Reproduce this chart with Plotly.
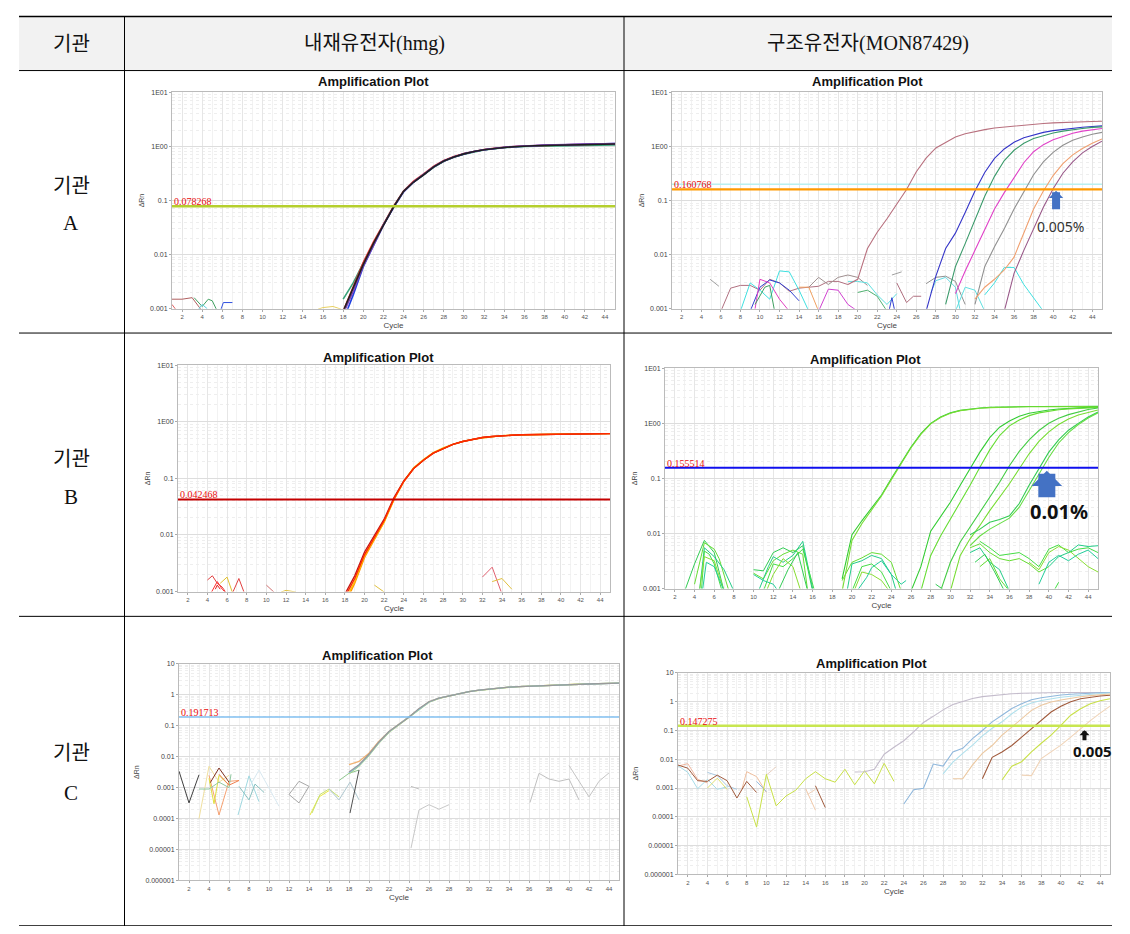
import math

import plotly.graph_objects as go


# page size (the browser adds an 8px body margin, so the figure is 16px smaller)
OFF = 8
W, H = 1130 - 2 * OFF, 934 - 2 * OFF

# ---------------------------------------------------------------- data
HEADERS = ["기관", "내재유전자(hmg)", "구조유전자(MON87429)"]
ROW_LABELS = ["A", "B", "C"]
PLOT_TITLE = "Amplification Plot"

Y_TICKS_AB = [0.001, 0.01, 0.1, 1, 10]
Y_TEXT_AB = ["0.001", "0.01", "0.1", "1E00", "1E01"]
Y_TICKS_C = [0.000001, 0.00001, 0.0001, 0.001, 0.01, 0.1, 1, 10]
Y_TEXT_C = ["0.000001", "0.00001", "0.0001", "0.001", "0.01", "0.1", "1", "10"]

# 기관 A - hmg
A_HMG_THRESHOLD = 0.078268
A_HMG_CURVES = [
    (18, [0.0015, 0.0030, 0.0070, 0.016, 0.036, 0.076, 0.147, 0.22, 0.30, 0.41, 0.53, 0.63, 0.72, 0.80,
          0.86, 0.91, 0.95, 0.98, 1.00, 1.01, 1.02, 1.03, 1.04, 1.05, 1.05, 1.06, 1.07, 1.07]),
    (18, [0.0009, 0.0026, 0.0072, 0.017, 0.037, 0.078, 0.150, 0.23, 0.31, 0.43, 0.55, 0.65, 0.74, 0.82,
          0.88, 0.93, 0.97, 1.00, 1.02, 1.04, 1.05, 1.06, 1.07, 1.08, 1.09, 1.10, 1.11, 1.12]),
    (18, [0.0006, 0.0018, 0.0060, 0.015, 0.035, 0.074, 0.145, 0.22, 0.30, 0.42, 0.54, 0.64, 0.73, 0.81,
          0.87, 0.92, 0.96, 0.99, 1.02, 1.04, 1.05, 1.06, 1.08, 1.09, 1.10, 1.11, 1.12, 1.13]),
    (18, [0.0008, 0.0021, 0.0062, 0.015, 0.035, 0.075, 0.146, 0.22, 0.30, 0.42, 0.54, 0.64, 0.73, 0.81,
          0.87, 0.93, 0.97, 1.00, 1.03, 1.05, 1.06, 1.07, 1.08, 1.09, 1.10, 1.11, 1.12, 1.13]),
    (18, [0.0009, 0.0024, 0.0066, 0.016, 0.036, 0.076, 0.148, 0.22, 0.30, 0.42, 0.54, 0.64, 0.73, 0.81,
          0.87, 0.92, 0.96, 0.99, 1.02, 1.03, 1.04, 1.05, 1.06, 1.07, 1.08, 1.09, 1.10, 1.11]),
]
A_HMG_NOISE = [
    ([1, 2, 3, 3.5, 4], [0.0015, 0.0015, 0.0016, 0.0012, 0.0009]),
    ([1, 1.5], [0.0012, 0.0009]),
    ([3.2, 4, 4.6, 5, 5.5], [0.0016, 0.0011, 0.0015, 0.0014, 0.0009]),
    ([3.5, 4, 4.5], [0.0009, 0.0012, 0.0010]),
    ([5.8, 6, 6.1, 7], [0.0009, 0.0012, 0.0013, 0.0013]),
    ([15.5, 16, 17, 17.8], [0.00098, 0.00105, 0.0011, 0.00098]),
]

# 기관 A - MON87429
A_MON_THRESHOLD = 0.160768
A_MON_THRESHOLD_2 = 0.2
A_MON_CURVES = [
    (19, [0.0028, 0.0035, 0.013, 0.026, 0.046, 0.085, 0.16, 0.34, 0.61, 0.94, 1.2, 1.5, 1.72, 1.9,
          2.05, 2.2, 2.3, 2.4, 2.5, 2.58, 2.66, 2.73, 2.79, 2.84, 2.88, 2.9, 2.92]),
    (27, [0.0009, 0.004, 0.013, 0.025, 0.06, 0.15, 0.33, 0.6, 0.9, 1.2, 1.45, 1.65, 1.82, 1.96,
          2.08, 2.18, 2.27, 2.34, 2.4]),
    (29, [0.0012, 0.006, 0.016, 0.045, 0.12, 0.28, 0.55, 0.85, 1.15, 1.4, 1.6, 1.78, 1.92, 2.05,
          2.15, 2.25, 2.3]),
    (30, [0.0019, 0.005, 0.012, 0.03, 0.07, 0.14, 0.27, 0.5, 0.8, 1.08, 1.33, 1.55, 1.75, 1.92,
          2.06, 2.15]),
    (32, [0.0012, 0.006, 0.014, 0.03, 0.07, 0.145, 0.3, 0.52, 0.78, 1.05, 1.3, 1.5, 1.68, 1.82]),
    (32, [0.0015, 0.0025, 0.0035, 0.0052, 0.009, 0.025, 0.07, 0.15, 0.29, 0.48, 0.7, 0.92, 1.15, 1.38]),
    (35, [0.0009, 0.0045, 0.012, 0.03, 0.075, 0.165, 0.32, 0.52, 0.76, 1.0, 1.25]),
]
A_MON_NOISE = [
    ([4.9, 5.8], [0.0035, 0.0026]),
    ([6, 7, 8, 9, 10, 11, 12, 13, 14, 15, 16, 17, 18, 19],
     [0.0009, 0.0024, 0.0027, 0.0027, 0.0022, 0.0035, 0.003, 0.0021, 0.0024, 0.0025, 0.0026, 0.0032, 0.0032, 0.0028]),
    ([8, 9, 10, 11, 12, 13, 14, 15], [0.0009, 0.003, 0.0022, 0.0015, 0.005, 0.0048, 0.0022, 0.0009]),
    ([9, 10, 11, 12, 13, 14], [0.0009, 0.0025, 0.0034, 0.003, 0.0022, 0.0014]),
    ([9.5, 10, 11, 12, 13], [0.001, 0.0035, 0.003, 0.0015, 0.0009]),
    ([9.5, 10.5, 11, 11.5], [0.0012, 0.0025, 0.0027, 0.0009]),
    ([14, 15, 16], [0.0025, 0.0025, 0.0009]),
    ([16, 17, 18, 19, 20], [0.0009, 0.0023, 0.0022, 0.0012, 0.0009]),
    ([15, 16, 17, 18, 19, 20, 21], [0.0025, 0.0038, 0.0028, 0.0038, 0.0042, 0.0038, 0.0027]),
    ([19, 20, 21, 22, 23, 24], [0.0032, 0.0032, 0.003, 0.0018, 0.0012, 0.0019]),
    ([20, 21, 22, 23], [0.002, 0.0022, 0.0017, 0.0009]),
    ([23.2, 23.5, 23.8], [0.0009, 0.0016, 0.0009]),
    ([27, 28, 29, 30, 31], [0.0029, 0.0038, 0.004, 0.0032, 0.0012]),
    ([27.5, 28, 29, 30, 30.5], [0.002, 0.0033, 0.0038, 0.0025, 0.0009]),
    ([30, 31, 32, 33], [0.0009, 0.0025, 0.0022, 0.0009]),
    ([33, 34, 35, 36, 37, 38, 39], [0.0018, 0.003, 0.0058, 0.0058, 0.0028, 0.0016, 0.0009]),
    ([23.5, 24.5], [0.0042, 0.0048]),
    ([24, 25, 25.7, 26.5], [0.003, 0.0013, 0.0017, 0.0017]),
]

# 기관 B - hmg
B_HMG_THRESHOLD = 0.042468
B_HMG_CURVES = [
    (18, [0.0006, 0.0014, 0.0040, 0.008, 0.017, 0.042, 0.088, 0.15, 0.21, 0.28, 0.34, 0.40, 0.45, 0.49,
          0.53, 0.55, 0.57, 0.58, 0.59, 0.595, 0.60, 0.605, 0.61, 0.61, 0.615, 0.62, 0.62, 0.62]),
    (18, [0.0007, 0.0015, 0.0043, 0.0085, 0.017, 0.043, 0.09, 0.155, 0.215, 0.285, 0.345, 0.40, 0.45, 0.49,
          0.52, 0.55, 0.57, 0.58, 0.59, 0.595, 0.60, 0.605, 0.61, 0.61, 0.615, 0.62, 0.62, 0.62]),
    (18, [0.0009, 0.0019, 0.0050, 0.010, 0.019, 0.046, 0.09, 0.15, 0.21, 0.28, 0.34, 0.40, 0.45, 0.49,
          0.53, 0.55, 0.57, 0.58, 0.59, 0.595, 0.60, 0.605, 0.61, 0.61, 0.615, 0.62, 0.62, 0.62]),
    (18, [0.0008, 0.0017, 0.0045, 0.009, 0.018, 0.044, 0.089, 0.15, 0.21, 0.28, 0.34, 0.40, 0.45, 0.49,
          0.53, 0.55, 0.57, 0.58, 0.59, 0.595, 0.60, 0.605, 0.61, 0.61, 0.615, 0.62, 0.62, 0.62]),
]
B_HMG_NOISE = [
    ([4, 4.5, 5, 5.5, 6], [0.0016, 0.0019, 0.0014, 0.0012, 0.0009]),
    ([4.3, 5, 5.5, 6], [0.0009, 0.0015, 0.0011, 0.0009]),
    ([4.8, 5, 5.3], [0.0011, 0.0013, 0.0011]),
    ([5.3, 6, 6.6], [0.0014, 0.0018, 0.0009]),
    ([6.5, 7.2, 7.8], [0.0009, 0.0017, 0.0009]),
    ([10, 11], [0.0013, 0.0009]),
    ([11.5, 12, 13], [0.00098, 0.00105, 0.00098]),
    ([21, 22], [0.0013, 0.00098]),
    ([32, 33, 34], [0.0018, 0.0027, 0.0009]),
    ([33, 34, 35], [0.0015, 0.0017, 0.0011]),
]

# 기관 B - MON87429
B_MON_THRESHOLD = 0.155514
B_MON_CURVES = [
    (19, [0.0015, 0.0095, 0.017, 0.029, 0.05, 0.1, 0.19, 0.37, 0.65, 1.0, 1.3, 1.55, 1.72, 1.82,
          1.9, 1.95, 1.98, 2.0, 2.01, 2.02, 2.02, 2.03, 2.03, 2.03, 2.03, 2.03, 2.03]),
    (19, [0.0009, 0.0075, 0.015, 0.027, 0.048, 0.095, 0.18, 0.36, 0.63, 0.98, 1.28, 1.53, 1.7, 1.8,
          1.88, 1.93, 1.96, 1.98, 1.99, 2.0, 2.0, 2.01, 2.01, 2.01, 2.01, 2.01, 2.01]),
    (26, [0.0009, 0.0025, 0.011, 0.02, 0.037, 0.075, 0.15, 0.3, 0.55, 0.85, 1.1, 1.35, 1.52, 1.65,
          1.75, 1.82, 1.88, 1.92, 1.95, 1.97]),
    (27, [0.0009, 0.004, 0.009, 0.018, 0.036, 0.075, 0.16, 0.33, 0.6, 0.9, 1.15, 1.38, 1.55, 1.67,
          1.76, 1.83, 1.88, 1.92, 1.95]),
    (29, [0.0009, 0.003, 0.007, 0.013, 0.024, 0.045, 0.085, 0.17, 0.31, 0.5, 0.74, 1.0, 1.24, 1.44,
          1.62, 1.78, 1.9]),
    (30, [0.0009, 0.004, 0.008, 0.014, 0.026, 0.045, 0.08, 0.15, 0.28, 0.47, 0.7, 0.95, 1.2, 1.42,
          1.6, 1.75]),
    (32, [0.0095, 0.012, 0.016, 0.018, 0.021, 0.035, 0.075, 0.15, 0.3, 0.5, 0.75, 1.0, 1.3, 1.6]),
    (32, [0.006, 0.009, 0.012, 0.015, 0.019, 0.03, 0.06, 0.12, 0.24, 0.44, 0.68, 0.95, 1.25, 1.55]),
]
B_MON_NOISE = [
    ([3, 4, 5, 6, 7], [0.0009, 0.0028, 0.0075, 0.0045, 0.0009]),
    ([4, 5, 6, 6.5, 7.5], [0.0012, 0.0068, 0.0052, 0.0035, 0.0009]),
    ([4.5, 5, 6, 7, 8], [0.0009, 0.0055, 0.0038, 0.0022, 0.0009]),
    ([4.7, 5, 5.5, 6, 6.8], [0.0009, 0.0048, 0.0042, 0.0028, 0.0009]),
    ([4.5, 5, 6, 6.5, 7], [0.0009, 0.0038, 0.0032, 0.0016, 0.0009]),
    ([4.8, 5.2, 6, 7], [0.0009, 0.003, 0.0025, 0.0009]),
    ([10, 11, 12, 13, 14, 15, 16], [0.0022, 0.0021, 0.0045, 0.0055, 0.0045, 0.006, 0.0009]),
    ([10, 11, 12, 13, 14, 15, 15.5], [0.0019, 0.0015, 0.0032, 0.0042, 0.005, 0.0042, 0.0009]),
    ([10.5, 11.5, 12, 13, 14, 15, 16], [0.0009, 0.0025, 0.0038, 0.003, 0.004, 0.0072, 0.001]),
    ([11, 12, 13, 14, 15, 16.2], [0.0009, 0.0028, 0.0025, 0.0035, 0.0052, 0.0009]),
    ([11.3, 12, 13, 14, 14.8], [0.0009, 0.0018, 0.0035, 0.0025, 0.0009]),
    ([10, 11, 12, 12.5], [0.0018, 0.0014, 0.0012, 0.0009]),
    ([12.5, 13.5, 14.5, 15.5], [0.0009, 0.0022, 0.0045, 0.0009]),
    ([19, 20, 21, 22, 23, 24, 25], [0.0014, 0.003, 0.0036, 0.0045, 0.0042, 0.003, 0.0009]),
    ([19.5, 20, 21, 22, 23, 24, 24.5], [0.0009, 0.0028, 0.0032, 0.004, 0.0035, 0.0018, 0.0009]),
    ([20, 21, 22, 23, 24], [0.0009, 0.0025, 0.0028, 0.002, 0.0009]),
    ([20.2, 21, 22, 23, 23.8], [0.0009, 0.002, 0.0018, 0.0014, 0.0009]),
    ([20.5, 21.5, 22, 23, 24, 25, 25.5], [0.0009, 0.0016, 0.0024, 0.0032, 0.0018, 0.0012, 0.0014]),
    ([28.5, 29.5], [0.0012, 0.0009]),
    ([32, 33, 34, 35, 36, 37, 38, 39, 40], [0.0055, 0.0065, 0.0045, 0.0035, 0.0032, 0.0035, 0.0028, 0.002, 0.0025]),
    ([32, 33, 34, 35, 36], [0.0045, 0.0055, 0.003, 0.0022, 0.0009]),
    ([33, 34, 35, 36, 37, 38, 39, 40, 41, 42, 43, 44, 45],
     [0.0072, 0.0055, 0.004, 0.0042, 0.0045, 0.0035, 0.0025, 0.0052, 0.0062, 0.0045, 0.0052, 0.0055, 0.0045]),
    ([38, 39, 40, 41, 42, 43, 44, 45], [0.003, 0.0022, 0.0045, 0.0058, 0.005, 0.0035, 0.0025, 0.002]),
    ([39, 40, 41, 42, 43, 44, 45], [0.0012, 0.003, 0.004, 0.0032, 0.0042, 0.005, 0.0035]),
    ([32.5, 33.5, 34.5, 35.5], [0.003, 0.0042, 0.002, 0.0009]),
    ([33, 34, 35, 36], [0.0025, 0.0035, 0.0015, 0.0009]),
    ([40, 41, 42, 43, 44, 45], [0.0025, 0.0038, 0.0045, 0.0062, 0.0058, 0.006]),
    ([40.5, 41], [0.0009, 0.0013]),
]

# 기관 C - hmg
C_HMG_THRESHOLD = 0.191713
C_HMG_CURVES = [
    (18, [0.0055, 0.007, 0.013, 0.032, 0.066, 0.115, 0.195, 0.36, 0.6, 0.79, 0.93, 1.1, 1.28, 1.43,
          1.56, 1.68, 1.78, 1.86, 1.93, 1.99, 2.04, 2.09, 2.15, 2.21, 2.26, 2.31, 2.35, 2.39]),
    (18, [0.0028, 0.005, 0.011, 0.028, 0.062, 0.11, 0.19, 0.35, 0.58, 0.77, 0.91, 1.09, 1.27, 1.41,
          1.54, 1.66, 1.77, 1.85, 1.92, 1.98, 2.03, 2.09, 2.15, 2.21, 2.26, 2.31, 2.36, 2.41]),
    (18, [0.0030, 0.0052, 0.0115, 0.029, 0.064, 0.112, 0.19, 0.355, 0.59, 0.78, 0.92, 1.1, 1.28, 1.42,
          1.55, 1.67, 1.78, 1.85, 1.92, 1.98, 2.03, 2.08, 2.15, 2.2, 2.25, 2.3, 2.35, 2.4]),
    (18, [0.0032, 0.0055, 0.012, 0.03, 0.065, 0.11, 0.19, 0.36, 0.6, 0.78, 0.92, 1.1, 1.28, 1.42,
          1.55, 1.67, 1.78, 1.85, 1.92, 1.98, 2.03, 2.08, 2.15, 2.2, 2.25, 2.3, 2.35, 2.4]),
]
C_HMG_NOISE = [
    ([1, 2, 3], [0.0034, 0.00032, 0.0026]),
    ([3, 4, 5, 6], [0.0001, 0.0049, 0.0015, 0.0025]),
    ([4, 5, 6, 7], [0.0025, 0.00013, 0.0016, 0.0017]),
    ([4.1, 5, 6], [0.0014, 0.0043, 0.0015]),
    ([4, 4.5, 5, 6], [0.002, 0.0003, 0.0025, 0.0012]),
    ([3, 4, 5, 6, 6.2], [0.0009, 0.0009, 0.0015, 0.001, 0.0027]),
    ([5, 6, 7], [0.0027, 0.0012, 0.0017]),
    ([6.9, 8, 9], [0.00013, 0.0024, 0.00035]),
    ([7, 8, 8.6, 9.5], [0.0011, 0.0004, 0.0013, 0.0007]),
    ([8, 9, 11], [0.001, 0.0037, 0.00025]),
    ([12, 13, 14, 13, 12], [0.0006, 0.0016, 0.0011, 0.00032, 0.0006]),
    ([14.1, 15, 16], [0.00013, 0.0005, 0.0008]),
    ([14.3, 15.1, 16, 17], [0.00015, 0.0006, 0.0009, 0.0005]),
    ([16, 17, 18.1, 19], [0.0009, 0.0004, 0.0015, 0.0004]),
    ([17, 18, 19], [0.0017, 0.0029, 0.0037]),
    ([18.1, 19], [0.00015, 0.0037]),
    ([24.2, 25], [0.0011, 0.0009]),
    ([24.2, 25, 26, 27, 28], [0.000011, 0.00019, 0.00028, 0.0002, 0.00028]),
    ([36.1, 37, 38, 39, 40, 41], [0.00033, 0.0029, 0.0019, 0.0016, 0.0019, 0.0004]),
    ([40, 41, 42, 43, 44], [0.0052, 0.0016, 0.0005, 0.0016, 0.003]),
]

# 기관 C - MON87429
C_MON_THRESHOLD = 0.147275
C_MON_CURVES = [
    (19, [0.0036, 0.0037, 0.0045, 0.015, 0.026, 0.044, 0.09, 0.19, 0.31, 0.52, 0.8, 1.05, 1.3, 1.5,
          1.65, 1.78, 1.88, 1.96, 2.02, 2.06, 2.08, 2.1, 2.1, 2.1, 2.1, 2.1, 2.1]),
    (24, [0.00028, 0.00087, 0.00098, 0.0068, 0.0058, 0.018, 0.024, 0.052, 0.1, 0.2, 0.34, 0.58, 0.85,
          1.17, 1.38, 1.55, 1.7, 1.82, 1.92, 2.0, 2.05, 2.08]),
    (28, [0.0031, 0.008, 0.016, 0.031, 0.065, 0.12, 0.2, 0.38, 0.65, 0.9, 1.1, 1.27, 1.42, 1.55,
          1.68, 1.8, 1.92, 2.0]),
    (29, [0.0021, 0.0021, 0.0064, 0.016, 0.03, 0.069, 0.13, 0.25, 0.5, 0.75, 0.97, 1.15, 1.32, 1.48,
          1.62, 1.75, 1.85]),
    (32, [0.0021, 0.0117, 0.018, 0.03, 0.059, 0.115, 0.22, 0.44, 0.7, 1.0, 1.27, 1.45, 1.58, 1.68]),
    (34, [0.0019, 0.0057, 0.0082, 0.018, 0.036, 0.069, 0.15, 0.34, 0.57, 0.85, 1.08, 1.27]),
    (36, [0.0028, 0.0027, 0.0105, 0.018, 0.031, 0.059, 0.115, 0.22, 0.4, 0.7]),
]
C_MON_NOISE = [
    ([1, 2, 3, 4], [0.0058, 0.007, 0.002, 0.0015]),
    ([1, 2, 3, 4, 5, 6], [0.006, 0.0035, 0.00095, 0.002, 0.0009, 0.0011]),
    ([4, 5, 6, 7], [0.0035, 0.0027, 0.0012, 0.0009]),
    ([4, 5, 6], [0.001, 0.0022, 0.0009]),
    ([7.5, 8, 9, 10], [0.0009, 0.0037, 0.0025, 0.0007]),
    ([9, 10], [0.0017, 0.00075]),
    ([10, 11], [0.0028, 0.0055]),
    ([14, 15], [0.00095, 0.00017]),
    ([14.2, 15], [0.0006, 0.0009]),
    ([15, 16], [0.0012, 0.00021]),
    ([1, 2, 3, 4, 5, 6, 7, 8, 9], [0.0063, 0.0049, 0.0018, 0.0017, 0.0028, 0.0018, 0.00045, 0.0017, 0.0007]),
    ([8, 9, 10, 11, 12, 13, 14, 15, 16, 17, 18, 19, 20, 21, 22, 23],
     [0.0005, 0.000044, 0.003, 0.00024, 0.00053, 0.00084, 0.0021, 0.0037, 0.0021, 0.0016, 0.0045,
      0.0013, 0.004, 0.0014, 0.0072, 0.0017]),
]

# notes under the arrows
A_MON_NOTE = "0.005%"
B_MON_NOTE = "0.01%"
C_MON_NOTE = "0.005"

# ---------------------------------------------------------------- styles
A_HMG_COLORS = ["#3aa37a", "#e03030", "#2040e0", "#8040b0", "#202020"]
A_HMG_NOISE_COLORS = ["#b06060", "#e06060", "#40a060", "#60d0e0", "#3050e0", "#e8d060"]
A_MON_COLORS = ["#b8707e", "#3535c8", "#3a9a6a", "#e040c8", "#909090", "#f0a070", "#9a5a8a"]
A_MON_NOISE_COLORS = ["#a0a0a0", "#b07080", "#40e0e0", "#3040d0", "#e040c0", "#40a060", "#f0a060",
                      "#d040d0", "#a09090", "#60e0e0", "#50b070", "#3040d0", "#909090", "#60d8e0",
                      "#60e0e0", "#40e0e0", "#a0a0a0", "#b07080"]
B_HMG_COLORS = ["#ff9000", "#ffc000", "#c01818", "#ff2a00"]
B_HMG_NOISE_COLORS = ["#e04040", "#ff3030", "#e02020", "#e0c030", "#e04040", "#d07070", "#e0c040",
                      "#e0c040", "#e06070", "#e0c040"]
B_MON_COLORS = ["#33cc33", "#77dd33", "#33cc33", "#66dd33", "#44cc44", "#77dd33", "#33cc55", "#66dd44"]
B_MON_NOISE_COLORS = ["#33cc55", "#66dd33", "#22cc88", "#44dd44", "#88dd33", "#22cc99"] * 5
C_HMG_COLORS = ["#f0b070", "#b5d96a", "#88c8e8", "#9a9a9a"]
C_HMG_NOISE_COLORS = ["#404040", "#f0e0a0", "#f5a070", "#803020", "#e0e040", "#90c8a0", "#f08050",
                      "#a0d8e0", "#88c0c0", "#d8e8f0", "#a8a8a8", "#e8e840", "#c8e070", "#b0c8d0",
                      "#90c890", "#505050", "#c0c0c0", "#c8c8c8", "#c0c0c0", "#c4c4c4"]
C_MON_COLORS = ["#c4bccc", "#90b8dc", "#b0e0ec", "#ecc8a0", "#a05a3c", "#c8e048", "#f0d4b8"]
C_MON_NOISE_COLORS = ["#f0b8a0", "#a8dce8", "#a8c8e0", "#e0e070", "#f0c0a0", "#90b8dc", "#e8d0c0",
                      "#f0c8a8", "#f0d0b8", "#a05a3c", "#a05a3c", "#c8e048"]

TEXT_FONT = "Liberation Serif, Noto Sans CJK KR"
PLOT_FONT = "Liberation Sans, Arial"


def px(x):
    return (x - OFF) / W


def py(y):
    return 1 - (y - OFF) / H


def paper_text(text, x, y, size, family=TEXT_FONT, color="#111"):
    return dict(text=text, x=px(x), y=py(y), xref="paper", yref="paper", showarrow=False,
                xanchor="center", yanchor="middle", font=dict(size=size, color=color, family=family))


fig = go.Figure()
annotations = []
shapes = []


def add_panel(i, box, title_xy, y_lo, y_ticks, y_text, curves, colors, noise, noise_colors,
              threshold, thr_color, thr_width, curve_width=1.1):
    xa = "x" if i == 1 else f"x{i}"
    ya = "y" if i == 1 else f"y{i}"
    left, top, right, bottom = box

    for (cycles, vals), col in zip(noise, noise_colors):
        fig.add_trace(go.Scatter(x=cycles, y=vals, mode="lines", xaxis=xa, yaxis=ya,
                                 line=dict(color=col, width=1), hoverinfo="skip"))
    for (start, vals), col in zip(curves, colors):
        fig.add_trace(go.Scatter(x=list(range(start, start + len(vals))), y=vals, mode="lines",
                                 xaxis=xa, yaxis=ya, line=dict(color=col, width=curve_width)))
    fig.add_trace(go.Scatter(x=[1, 45], y=[threshold, threshold], mode="lines", xaxis=xa, yaxis=ya,
                             line=dict(color=thr_color, width=thr_width), hoverinfo="skip"))

    fig.layout["xaxis" if i == 1 else f"xaxis{i}"] = dict(
        domain=[px(left), px(right)], anchor=ya, range=[1, 45],
        tickmode="linear", tick0=2, dtick=2, ticks="outside", ticklen=2, tickcolor="#aaa",
        tickfont=dict(size=6, color="#555", family=PLOT_FONT),
        showgrid=True, gridcolor="#e6e6e6", zeroline=False,
        minor=dict(dtick=1, showgrid=True, gridcolor="#f2f2f2"),
        showline=True, mirror=True, linecolor="#bbbbbb", linewidth=1,
        title=dict(text="Cycle", font=dict(size=8, color="#444", family=PLOT_FONT), standoff=3),
    )
    fig.layout["yaxis" if i == 1 else f"yaxis{i}"] = dict(
        domain=[py(bottom), py(top)], anchor=xa, type="log", range=[y_lo, 1],
        tickmode="array", tickvals=y_ticks, ticktext=y_text, ticks="outside", ticklen=2,
        tickcolor="#aaa", tickfont=dict(size=7, color="#444", family=PLOT_FONT),
        showgrid=True, gridcolor="#dddddd", zeroline=False,
        minor=dict(dtick="D1", showgrid=True, gridcolor="#eeeeee", griddash="dot"),
        showline=True, mirror=True, linecolor="#bbbbbb", linewidth=1,
        title=dict(text="ΔRn", font=dict(size=7, color="#444", family=PLOT_FONT), standoff=4),
    )
    annotations.append(paper_text(f"<b>{PLOT_TITLE}</b>", title_xy[0], title_xy[1], 13,
                                  family=PLOT_FONT))
    annotations.append(dict(text=str(threshold), x=1, y=math.log10(threshold), xref=xa, yref=ya,
                            xanchor="left", yanchor="bottom", yshift=-3, showarrow=False,
                            font=dict(size=10, color="#e80c0c", family="Liberation Serif")))
    return xa, ya


add_panel(1, (172, 89, 615, 307), (373, 78), -3, Y_TICKS_AB, Y_TEXT_AB, A_HMG_CURVES, A_HMG_COLORS,
          A_HMG_NOISE, A_HMG_NOISE_COLORS, A_HMG_THRESHOLD, "#b5cf2e", 2.5, curve_width=1.6)
# second (cyan) threshold in the A / MON87429 plot
fig.add_trace(go.Scatter(x=[1, 45], y=[A_MON_THRESHOLD_2, A_MON_THRESHOLD_2], mode="lines",
                         xaxis="x2", yaxis="y2", line=dict(color="#b8f0f0", width=1.5)))
xa2, ya2 = add_panel(2, (672, 89, 1102, 307), (867, 78), -3, Y_TICKS_AB, Y_TEXT_AB, A_MON_CURVES,
                     A_MON_COLORS, A_MON_NOISE, A_MON_NOISE_COLORS, A_MON_THRESHOLD, "#ff9a00", 2.2)
add_panel(3, (178, 364, 610, 592), (378, 356), -3, Y_TICKS_AB, Y_TEXT_AB, B_HMG_CURVES, B_HMG_COLORS,
          B_HMG_NOISE, B_HMG_NOISE_COLORS, B_HMG_THRESHOLD, "#c40000", 2, curve_width=1.4)
xa4, ya4 = add_panel(4, (665, 367, 1098, 589), (865, 358), -3, Y_TICKS_AB, Y_TEXT_AB, B_MON_CURVES,
                     B_MON_COLORS, B_MON_NOISE, B_MON_NOISE_COLORS, B_MON_THRESHOLD, "#1010ee", 2)
add_panel(5, (179, 665, 619, 883), (377, 656), -6, Y_TICKS_C, Y_TEXT_C, C_HMG_CURVES, C_HMG_COLORS,
          C_HMG_NOISE, C_HMG_NOISE_COLORS, C_HMG_THRESHOLD, "#80bff0", 1.6, curve_width=1.3)
xa6, ya6 = add_panel(6, (678, 674, 1110, 877), (872, 665), -6, Y_TICKS_C, Y_TEXT_C, C_MON_CURVES,
                     C_MON_COLORS, C_MON_NOISE, C_MON_NOISE_COLORS, C_MON_THRESHOLD, "#c8e650", 2.5)

# up arrows + concentration notes
annotations += [
    dict(x=40.3, y=-0.82, ax=40.3, ay=-1.19, xref=xa2, yref=ya2, axref=xa2, ayref=ya2, text="",
         showarrow=True, arrowhead=1, arrowsize=0.3, arrowwidth=8, arrowcolor="#4472c4"),
    dict(x=40.8, y=-1.48, xref=xa2, yref=ya2, text=A_MON_NOTE, showarrow=False,
         font=dict(size=14, color="#333", family="Noto Sans")),
    dict(x=39.8, y=-0.86, ax=39.8, ay=-1.37, xref=xa4, yref=ya4, axref=xa4, ayref=ya4, text="",
         showarrow=True, arrowhead=1, arrowsize=0.3, arrowwidth=17, arrowcolor="#4472c4"),
    dict(x=41.0, y=-1.6, xref=xa4, yref=ya4, text=f"<b>{B_MON_NOTE}</b>", showarrow=False,
         font=dict(size=20, color="#111", family="Noto Sans")),
    dict(x=42.4, y=-0.99, ax=42.4, ay=-1.39, xref=xa6, yref=ya6, axref=xa6, ayref=ya6, text="",
         showarrow=True, arrowhead=1, arrowsize=0.42, arrowwidth=4, arrowcolor="#111"),
    dict(x=43.2, y=-1.72, xref=xa6, yref=ya6, text=f"<b>{C_MON_NOTE}</b>", showarrow=False,
         font=dict(size=15, color="#111", family="Noto Sans")),
]

# ---------------------------------------------------------------- table frame
TABLE_L, TABLE_R = 19, 1112
ROW_Y = [12.5, 67, 331.5, 617, 929]
COL_X = [124.5, 624]

shapes.append(dict(type="rect", xref="paper", yref="paper", x0=px(TABLE_L), x1=px(TABLE_R),
                   y0=py(ROW_Y[1]), y1=py(ROW_Y[0]), fillcolor="#f2f2f2", line=dict(width=0),
                   layer="below"))
for k, yy in enumerate(ROW_Y):
    shapes.append(dict(type="line", xref="paper", yref="paper", x0=px(TABLE_L), x1=px(TABLE_R),
                       y0=py(yy), y1=py(yy),
                       line=dict(color="#000", width=1.6 if k in (0, len(ROW_Y) - 1) else 1)))
for xx in COL_X:
    shapes.append(dict(type="line", xref="paper", yref="paper", x0=px(xx), x1=px(xx),
                       y0=py(ROW_Y[0]), y1=py(ROW_Y[-1]), line=dict(color="#000", width=1)))

for text, cx in zip(HEADERS, [71, 374, 868]):
    annotations.append(paper_text(text, cx, 40, 20))
for lab, (y1, y2) in zip(ROW_LABELS, [(183, 221), (458, 497), (755, 795)]):
    annotations.append(paper_text(HEADERS[0], 71, y1, 20))
    annotations.append(paper_text(lab, 71, y2, 21))

fig.update_layout(
    width=W, height=H, margin=dict(l=0, r=0, t=0, b=0),
    paper_bgcolor="white", plot_bgcolor="white", showlegend=False,
    annotations=annotations, shapes=shapes,
)

fig.write_html("out.html")
